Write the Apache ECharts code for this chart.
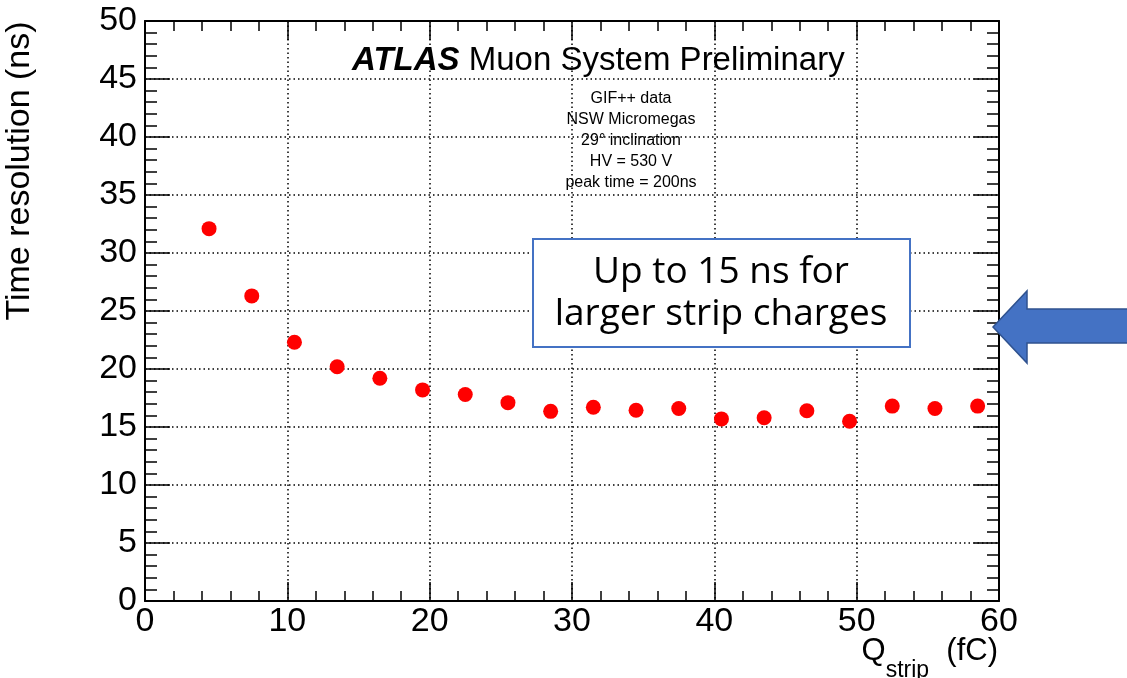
<!DOCTYPE html>
<html>
<head>
<meta charset="utf-8">
<title>Time resolution vs strip charge</title>
<script src="https://cdn.jsdelivr.net/npm/echarts@6/dist/echarts.min.js"></script>
<style>
  html, body { margin: 0; padding: 0; background: #ffffff; }
  #chart { width: 1127px; height: 678px; }
</style>
</head>
<body>
<div id="chart"></div>
<script>
// Strip charge bin centres (fC)
const stripCharge = [4.5, 7.5, 10.5, 13.5, 16.5, 19.5, 22.5, 25.5, 28.5, 31.5,
                     34.5, 37.5, 40.5, 43.5, 46.5, 49.5, 52.5, 55.5, 58.5];
// Measured time resolution (ns)
const timeResolution = [32.1, 26.3, 22.3, 20.2, 19.2, 18.2, 17.8, 17.1, 16.35, 16.7,
                        16.45, 16.6, 15.7, 15.8, 16.4, 15.5, 16.8, 16.6, 16.8];
// Run conditions shown under the header
const infoLines = ['GIF++ data', 'NSW Micromegas', '29° inclination', 'HV = 530 V', 'peak time = 200ns'];
const calloutLines = ['Up to 15 ns for', 'larger strip charges'];

const FONT = '"Liberation Sans", Arial, Helvetica, sans-serif';
const points = stripCharge.map((x, i) => [x, timeResolution[i]]);

const dotted = { type: [1.5, 3], color: '#000', width: 1.5 };
const axisLine = { show: true, onZero: false, lineStyle: { color: '#000', width: 2 } };

function frameAxis(base, extra) {
  return Object.assign({}, base, extra);
}

const xBase = {
  type: 'value', min: 0, max: 60, interval: 10,
  axisLine: axisLine,
  axisTick: { show: true, inside: true, length: 19, lineStyle: { color: '#000', width: 1.5 } },
  minorTick: { show: true, splitNumber: 5, length: 10, lineStyle: { color: '#000', width: 1.5 } }
};
const yBase = {
  type: 'value', min: 0, max: 50, interval: 5,
  axisLine: axisLine,
  axisTick: { show: true, inside: true, length: 25, lineStyle: { color: '#000', width: 1.5 } },
  minorTick: { show: true, splitNumber: 5, length: 12, lineStyle: { color: '#000', width: 1.5 } }
};

const chart = echarts.init(document.getElementById('chart'), null, { renderer: 'canvas' });

chart.setOption({
  animation: false,
  backgroundColor: '#ffffff',
  grid: { left: 145, right: 128, top: 21, bottom: 77, containLabel: false },
  xAxis: [
    frameAxis(xBase, {
      position: 'bottom',
      splitLine: { show: true, lineStyle: dotted },
      axisLabel: { show: true, color: '#000', fontFamily: FONT, fontSize: 34, margin: 4 }
    }),
    frameAxis(xBase, {
      position: 'top',
      splitLine: { show: false },
      axisLabel: { show: false }
    })
  ],
  yAxis: [
    frameAxis(yBase, {
      position: 'left',
      splitLine: { show: true, lineStyle: dotted },
      axisLabel: { show: true, color: '#000', fontFamily: FONT, fontSize: 34, margin: 8 }
    }),
    frameAxis(yBase, {
      position: 'right',
      splitLine: { show: false },
      axisLabel: { show: false }
    })
  ],
  series: [{
    type: 'scatter',
    xAxisIndex: 0,
    yAxisIndex: 0,
    data: points,
    symbol: 'circle',
    symbolSize: 15,
    itemStyle: { color: '#ff0000', opacity: 1 },
    z: 5
  }],
  graphic: [
    // Header
    {
      type: 'text', left: 352, top: 44, z: 50,
      style: {
        text: '{b|ATLAS}{n| Muon System Preliminary}',
        rich: {
          b: { fontFamily: FONT, fontSize: 33, fontWeight: 'bold', fontStyle: 'italic', fill: '#000' },
          n: { fontFamily: FONT, fontSize: 33, fill: '#000' }
        }
      }
    },
    // Run conditions
    {
      type: 'text', x: 631, y: 141, z: 50,
      style: {
        text: infoLines.join('\n'),
        fontFamily: FONT, fontSize: 16, lineHeight: 21,
        fill: '#000', align: 'center', verticalAlign: 'middle'
      }
    },
    // Callout box
    {
      type: 'rect', z: 60,
      shape: { x: 533, y: 239, width: 377, height: 108 },
      style: { fill: '#ffffff', stroke: '#4472C4', lineWidth: 2 }
    },
    {
      type: 'text', x: 721, y: 293, z: 61,
      style: {
        text: calloutLines.join('\n'),
        fontFamily: '"Open Sans", sans-serif', fontSize: 37, lineHeight: 42,
        fill: '#000', align: 'center', verticalAlign: 'middle'
      }
    },
    // Arrow pointing at the plateau
    {
      type: 'polygon', z: 60,
      shape: {
        points: [[993, 327], [1027, 291], [1027, 309], [1140, 309],
                 [1140, 343], [1027, 343], [1027, 363]]
      },
      style: { fill: '#4472C4', stroke: '#2F528F', lineWidth: 1.5 }
    },
    // Y axis title
    {
      type: 'text', x: 20, y: 171, rotation: Math.PI / 2, z: 50,
      style: {
        text: 'Time resolution (ns)',
        fontFamily: FONT, fontSize: 34, fill: '#000',
        align: 'center', verticalAlign: 'middle'
      }
    },
    // X axis title with subscript
    {
      type: 'text', x: 998, y: 620, z: 50,
      style: {
        text: '{q|Q}{s|strip}{n|  (fC)}',
        align: 'right',
        rich: {
          q: { fontFamily: FONT, fontSize: 31, lineHeight: 62, fill: '#000' },
          s: { fontFamily: FONT, fontSize: 23, lineHeight: 22, verticalAlign: 'bottom', fill: '#000' },
          n: { fontFamily: FONT, fontSize: 31, lineHeight: 62, fill: '#000' }
        }
      }
    }
  ]
});
</script>
</body>
</html>
